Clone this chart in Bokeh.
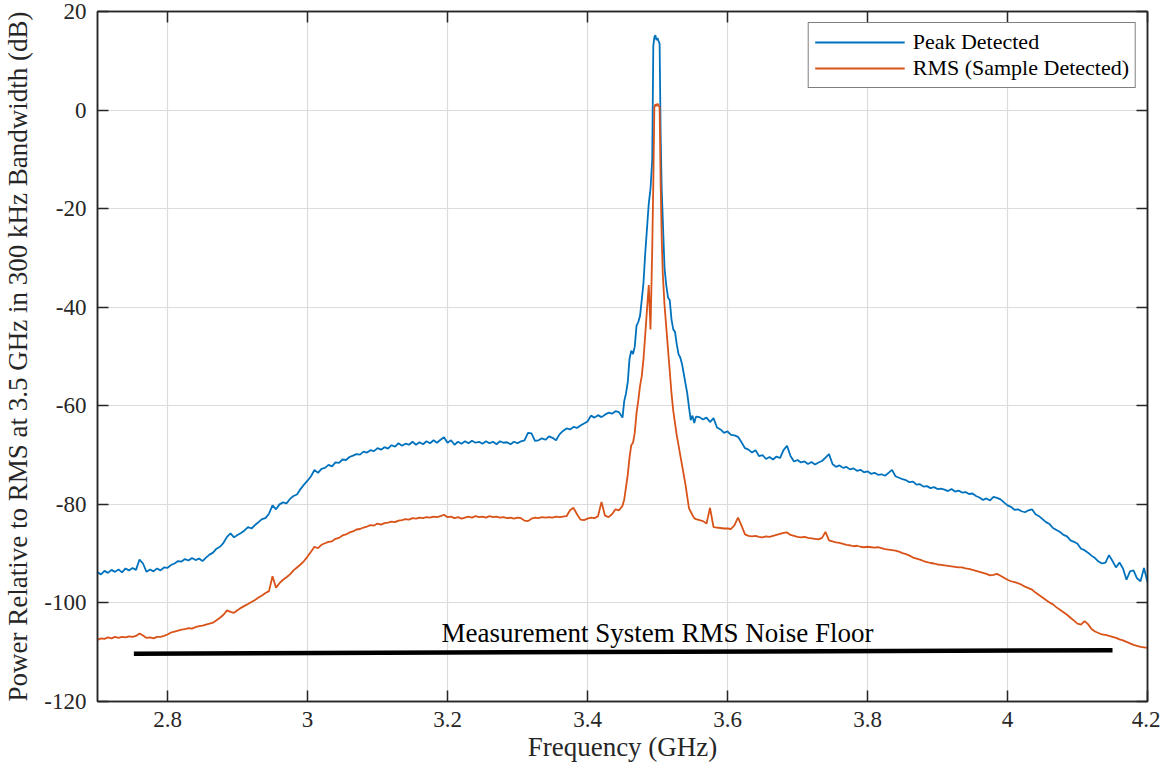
import numpy as np
from bokeh.plotting import figure
from bokeh.models import (Range1d, FixedTicker, LinearAxis, Legend, LegendItem,
                          CustomJSTickFormatter, ColumnDataSource)
from bokeh.core.properties import value
from bokeh.embed import file_html
from bokeh.resources import INLINE

# ---------------- data ----------------
# Peak detected, 2.700 .. 3.440 GHz (step 0.005)
peak_low = [
    -93.8, -94.2, -93.5, -93.9, -93.3, -93.7, -93.2, -93.8, -93.0, -93.4,
    -92.9, -93.3, -91.2, -92.0, -93.7, -93.2, -93.6, -93.0, -93.4, -92.8,
    -92.9, -92.3, -92.0, -91.5, -91.6, -91.1, -91.4, -90.9, -91.3, -91.0,
    -91.5, -90.8, -90.2, -89.8, -89.0, -88.6, -87.8, -86.6, -85.9, -86.7,
    -86.2, -85.8, -85.3, -84.6, -84.9, -84.2, -83.6, -83.0, -82.8, -81.9,
    -80.2, -81.0, -80.0, -79.6, -79.8, -78.9, -78.3, -78.0, -76.9, -76.0,
    -75.2, -74.3, -73.0, -73.6, -72.8, -72.6, -72.0, -72.3, -71.5, -71.6,
    -70.9, -71.0, -70.4, -70.1, -69.8, -69.9, -69.3, -69.5, -69.0, -69.2,
    -68.6, -68.9, -68.4, -68.7, -68.0, -68.3, -67.6, -68.1, -67.7, -67.9,
    -67.3, -67.9, -67.4, -67.8, -67.2, -67.6, -67.0, -67.5, -66.9, -66.4,
    -67.5, -67.0, -67.9, -67.3, -67.7, -67.2, -67.6, -67.1, -67.5, -67.3,
    -67.7, -67.2, -67.6, -67.3, -67.8, -67.2, -67.5, -67.4, -67.8, -67.3,
    -67.6, -67.2, -67.0, -65.5, -65.6, -67.1, -67.0, -66.6, -66.9, -66.2,
    -66.5, -67.0, -65.8, -65.1, -64.6, -64.8, -64.3, -64.5, -64.0, -63.6,
    -63.2, -62.0, -62.4, -61.9, -62.3, -61.8, -61.4, -61.6, -61.1,
]
# RMS (sample detected), 2.700 .. 3.440 GHz (step 0.005)
rms_low = [
    -107.5, -107.2, -107.3, -107.0, -107.2, -106.9, -107.1, -106.9, -107.0, -106.8,
    -106.9, -106.7, -106.2, -106.6, -107.1, -107.0, -107.2, -106.9, -106.9, -106.7,
    -106.4, -106.0, -105.8, -105.6, -105.4, -105.3, -105.1, -105.2, -104.9, -104.7,
    -104.6, -104.4, -104.2, -104.0, -103.5, -103.0, -102.4, -101.5, -101.8, -102.0,
    -101.5, -101.0, -100.6, -100.2, -99.8, -99.4, -98.9, -98.5, -98.0, -97.6,
    -94.6, -96.9, -96.0, -95.3, -94.8, -94.2, -93.4, -92.8, -92.2, -91.5,
    -90.6, -89.6, -88.6, -88.9, -88.2, -87.9, -87.6, -87.5, -87.0, -86.8,
    -86.3, -86.1, -85.7, -85.5, -85.1, -85.0, -84.7, -84.5, -84.2, -84.3,
    -83.9, -84.1, -83.8, -83.7, -83.5, -83.6, -83.3, -83.2, -83.0, -83.1,
    -82.8, -82.9, -82.7, -82.8, -82.6, -82.7, -82.5, -82.6, -82.4, -82.1,
    -82.6, -82.5, -82.8, -82.6, -82.9, -82.7, -82.5, -82.7, -82.4, -82.6,
    -82.5, -82.7, -82.4, -82.6, -82.5, -82.7, -82.6, -82.8, -82.7, -82.9,
    -82.7, -82.8, -83.3, -83.4, -82.9, -82.7, -82.8, -82.6, -82.7, -82.6,
    -82.7, -82.5, -82.6, -82.5, -82.4, -81.2, -80.7, -82.0, -83.1, -83.2,
    -82.9, -82.7, -82.8, -82.4, -79.5, -82.3, -82.6, -82.0, -81.0,
]
# carrier region (GHz)
freq_peak = [
    3.445, 3.450, 3.4525, 3.455, 3.4575, 3.460, 3.4625, 3.465, 3.4675, 3.470,
    3.4725, 3.475, 3.4775, 3.480, 3.4825, 3.485, 3.4875, 3.490, 3.4925, 3.494,
    3.4955, 3.497, 3.4985, 3.500, 3.5015, 3.503, 3.5045, 3.506, 3.5075, 3.510,
    3.5125, 3.515, 3.5175, 3.520, 3.5225, 3.525, 3.5275, 3.530, 3.5325, 3.535,
    3.5375, 3.540, 3.5425, 3.545, 3.5475, 3.550, 3.5525, 3.555,
]
peak_mid = [
    -61.3, -62.4, -59.0, -57.5, -55.2, -50.5, -48.8, -49.5, -48.0, -43.8,
    -43.0, -41.8, -38.5, -35.0, -29.0, -24.0, -19.0, -16.0, -10.0, 13.0,
    14.8, 15.2, 14.2, 14.6, 14.0, 13.5, -5.0, -16.0, -22.0, -32.0,
    -35.5, -38.0, -38.6, -42.5, -44.5, -45.0, -47.5, -49.5, -50.2, -51.5,
    -53.5, -55.5, -57.5, -60.3, -62.9, -62.0, -63.5, -62.2,
]
rms_mid = [
    -81.2, -80.3, -79.0, -76.5, -74.0, -70.5, -68.0, -67.5, -65.5, -61.5,
    -59.0, -56.0, -54.0, -50.5, -45.5, -40.5, -35.5, -44.5, -28.0, -15.0,
    0.5, 1.2, 0.8, 1.3, 0.9, 0.6, -15.0, -26.0, -33.0, -39.5,
    -44.0, -48.5, -53.0, -57.5, -61.0, -63.5, -66.0, -68.0, -70.0, -72.0,
    -74.0, -76.0, -78.5, -80.8, -81.5, -82.2, -82.8, -83.0,
]
# Peak detected, 3.560 .. 4.200 GHz (step 0.005)
peak_high = [
    -62.3, -62.8, -62.4, -63.3, -62.5, -64.4, -64.8, -65.5, -65.2, -65.9,
    -66.0, -66.3, -67.4, -68.6, -68.9, -69.5, -69.0, -70.2, -70.0, -70.8,
    -70.4, -70.9, -70.3, -70.6, -69.0, -68.1, -70.2, -71.3, -71.0, -71.5,
    -71.3, -71.8, -71.4, -71.9, -71.5, -71.2, -70.5, -69.8, -71.8, -72.4,
    -72.1, -72.6, -72.4, -72.9, -72.7, -73.2, -73.0, -73.5, -73.3, -73.8,
    -73.6, -74.0, -73.9, -74.2, -73.6, -73.0, -74.3, -74.6, -74.9, -75.1,
    -75.5, -75.4, -76.0, -75.9, -76.4, -76.3, -76.7, -76.5, -76.9, -76.8,
    -77.0, -77.3, -76.9, -77.4, -77.2, -77.6, -77.5, -77.9, -77.8, -78.3,
    -78.6, -79.1, -78.8, -79.2, -78.5, -78.7, -79.0, -79.6, -80.2, -80.5,
    -81.1, -81.0, -81.4, -81.6, -81.2, -81.0, -82.0, -82.4, -83.0, -83.6,
    -84.0, -84.8, -85.2, -85.6, -86.2, -86.5, -87.3, -87.6, -88.0, -89.0,
    -89.3, -89.8, -90.4, -90.9, -91.6, -92.0, -91.8, -90.3, -91.5, -92.8,
    -91.8, -93.0, -95.3, -93.6, -93.4, -95.0, -95.6, -92.9, -95.8,
]
# RMS (sample detected), 3.560 .. 4.200 GHz (step 0.005)
rms_high = [
    -83.2, -83.4, -83.9, -80.7, -84.6, -84.7, -84.8, -84.9, -84.9, -85.0,
    -84.2, -82.7, -84.3, -86.1, -86.4, -86.5, -86.4, -86.6, -86.7, -86.5,
    -86.6, -86.4, -86.2, -86.0, -85.8, -85.7, -86.2, -86.4, -86.6, -86.7,
    -86.6, -86.8, -86.9, -87.0, -87.1, -86.8, -85.6, -87.3, -87.5, -87.7,
    -87.8, -88.0, -88.2, -88.3, -88.5, -88.4, -88.6, -88.7, -88.6, -88.7,
    -88.8, -88.7, -88.9, -89.1, -89.2, -89.3, -89.4, -89.6, -89.9, -90.1,
    -90.4, -90.8, -91.0, -91.2, -91.5, -91.7, -91.9, -92.0, -92.2, -92.3,
    -92.4, -92.5, -92.6, -92.7, -92.8, -92.8, -93.0, -93.1, -93.3, -93.5,
    -93.7, -93.9, -94.1, -94.4, -94.3, -94.1, -94.5, -94.9, -95.3, -95.6,
    -95.8, -96.0, -96.3, -96.7, -97.0, -97.3, -97.9, -98.4, -98.9, -99.4,
    -99.9, -100.3, -100.9, -101.4, -101.9, -102.4, -103.0, -103.6, -104.2, -104.4,
    -103.7, -104.3, -105.3, -105.8, -106.1, -106.4, -106.5, -106.7, -106.9, -107.1,
    -107.4, -107.6, -107.9, -108.2, -108.5, -108.7, -108.9, -109.0, -109.1,
]
noise_floor_freq = [2.752, 4.150]
noise_floor_db = [-110.3, -109.6]
noise_floor_label = "Measurement System RMS Noise Floor"
noise_label_pos = (3.5, -106.0)

x_ticks = [2.8, 3.0, 3.2, 3.4, 3.6, 3.8, 4.0, 4.2]
y_ticks = [-120, -100, -80, -60, -40, -20, 0, 20]
series_names = ["Peak Detected", "RMS (Sample Detected)"]

# sampling grids of the two flat segments (uniform 5 MHz spacing)
freq_low = np.linspace(2.70, 3.44, len(peak_low))
freq_high = np.linspace(3.56, 4.20, len(peak_high))
freq = np.concatenate([freq_low, freq_peak, freq_high])
peak = np.concatenate([peak_low, peak_mid, peak_high])
rms = np.concatenate([rms_low, rms_mid, rms_high])

# ---------------- figure ----------------
FONT = "Liberation Serif"
AX = "#262626"
BLUE = "#0072BD"
ORANGE = "#D95319"

p = figure(width=1160, height=770, output_backend="svg", toolbar_location=None,
           x_range=Range1d(2.7, 4.2), y_range=Range1d(-120, 20),
           min_border_left=97, min_border_right=13, min_border_top=11,
           min_border_bottom=69)
p.background_fill_color = "white"
p.border_fill_color = "white"
p.outline_line_color = AX
p.outline_line_width = 1.5

src = ColumnDataSource(dict(f=freq, peak=peak, rms=rms))
r1 = p.line("f", "peak", source=src, line_color=BLUE, line_width=1.8)
r2 = p.line("f", "rms", source=src, line_color=ORANGE, line_width=1.8)
p.line(noise_floor_freq, noise_floor_db, line_color="black", line_width=4.5)
p.text(x=[noise_label_pos[0]], y=[noise_label_pos[1]], text=[noise_floor_label],
       text_font=value(FONT), text_font_size="27px", text_align="center",
       text_baseline="alphabetic", text_color="black")

fmt = CustomJSTickFormatter(code="return String(Number(tick.toFixed(3)));")
blank = CustomJSTickFormatter(code="return '';")

for ax in (p.xaxis[0], p.yaxis[0]):
    ax.major_label_text_font = FONT
    ax.major_label_text_font_size = "23px"
    ax.major_label_text_color = AX
    ax.axis_label_text_font = FONT
    ax.axis_label_text_font_size = "27px"
    ax.axis_label_text_font_style = "normal"
    ax.axis_label_text_color = AX
    ax.axis_line_color = AX
    ax.axis_line_width = 1.5
    ax.major_tick_line_color = AX
    ax.major_tick_line_width = 1.5
    ax.major_tick_in = 11
    ax.major_tick_out = 0
    ax.minor_tick_line_color = None
    ax.formatter = fmt

p.xaxis[0].ticker = FixedTicker(ticks=x_ticks)
p.yaxis[0].ticker = FixedTicker(ticks=y_ticks)
p.xaxis[0].axis_label = "Frequency (GHz)"
p.yaxis[0].axis_label = "Power Relative to RMS at 3.5 GHz in 300 kHz Bandwidth (dB)"
p.xaxis[0].major_label_standoff = 10
p.xaxis[0].axis_label_standoff = 2
p.yaxis[0].major_label_standoff = 11
p.yaxis[0].axis_label_standoff = 8

for loc, tk in (("above", x_ticks), ("right", y_ticks)):
    a = LinearAxis(ticker=FixedTicker(ticks=tk), formatter=blank)
    a.major_label_text_font_size = "1px"
    a.major_label_standoff = 0
    a.axis_line_color = AX
    a.axis_line_width = 1.5
    a.major_tick_line_color = AX
    a.major_tick_line_width = 1.5
    a.major_tick_in = 11
    a.major_tick_out = 0
    a.minor_tick_line_color = None
    p.add_layout(a, loc)

p.xgrid.ticker = FixedTicker(ticks=x_ticks)
p.ygrid.ticker = FixedTicker(ticks=y_ticks)
p.grid.grid_line_color = "#dcdcdc"
p.grid.grid_line_width = 1.2

legend = Legend(items=[LegendItem(label=series_names[0], renderers=[r1]),
                       LegendItem(label=series_names[1], renderers=[r2])],
                location="top_right", margin=11, padding=6, spacing=0,
                glyph_width=90, glyph_height=26, label_height=26,
                label_standoff=8,
                label_text_font=FONT, label_text_font_size="22px",
                label_text_color="black", label_text_baseline="middle",
                border_line_color="black", border_line_width=1.5,
                background_fill_color="white", background_fill_alpha=1.0)
p.add_layout(legend)

open("out.html", "w").write(file_html(p, INLINE))
